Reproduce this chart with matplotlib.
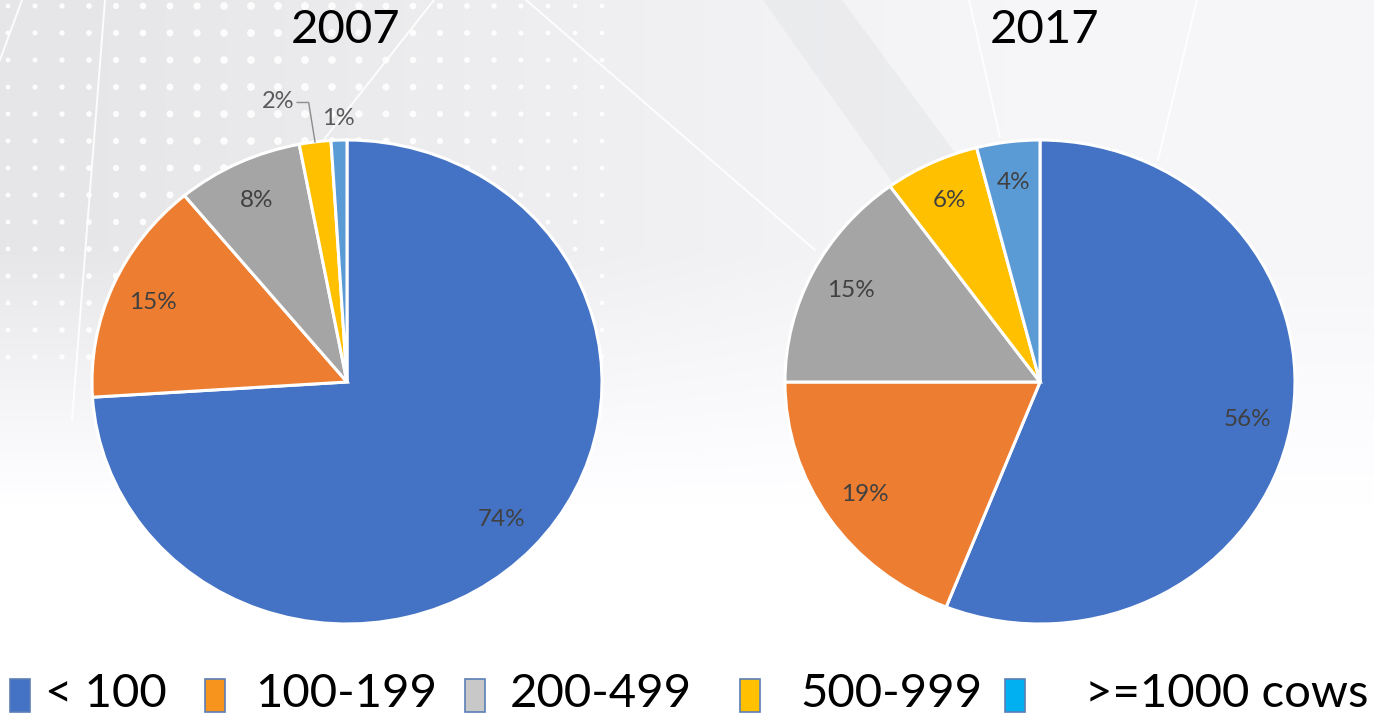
import matplotlib
matplotlib.use('Agg')
import matplotlib.pyplot as plt
from matplotlib.patches import Rectangle
import numpy as np

# herd size classes, share of farms (%)
categories = ['< 100', '100-199', '200-499', '500-999', '>=1000 cows']
years = ['2007', '2017']
share_2007 = [74, 15, 8, 2, 1]
share_2017 = [56, 19, 15, 6, 4]

slice_colors = ['#4472C4', '#ED7D31', '#A5A5A5', '#FFC000', '#5B9BD5']
legend_colors = ['#4472C4', '#F7941D', '#C8C8C8', '#FFC000', '#00B0F0']

plt.rcParams['font.family'] = ['Lato', 'DejaVu Sans']

W, H = 1374, 720
fig = plt.figure(figsize=(W / 100, H / 100), dpi=100)

# slide background: grey on top / left, fading to white at the bottom
bg = fig.add_axes([0, 0, 1, 1])
gx = np.linspace(0, 1, 400)
gy = np.linspace(0, 1, 300)
X, Y = np.meshgrid(gx, gy)
lum = 0.905 + 0.06 * np.clip(X * 1.5 - 0.1, 0, 1)
lum = lum + (1 - lum) * np.clip((Y - 0.35) / 0.35, 0, 1)
img = np.dstack([lum, lum, np.minimum(lum + 0.008, 1)])
bg.imshow(img, aspect='auto', extent=[0, W, H, 0])
# faint diagonal band top middle
bg.fill([763, 842, 990, 905], [0, 0, 200, 200], color='#e2e3e6', alpha=0.45, lw=0)
# white dot grid on the left
dx, dy = np.meshgrid(np.arange(8, 620, 27), np.arange(6, 380, 27))
dx, dy = dx.ravel(), dy.ravel()
sz = 10 + 22 * np.exp(-((dx - 280) / 180.0) ** 2)
bg.scatter(dx, dy, s=sz, color='white', alpha=0.9, lw=0)
# thin white decoration lines
for (x0, y0, x1, y1) in [(105, 0, 72, 420), (434, 0, 300, 170), (526, 0, 815, 250),
                         (969, 0, 1000, 137), (1197, 0, 1158, 160), (22, 0, 0, 60)]:
    bg.plot([x0, x1], [y0, y1], color='white', lw=1.4, alpha=0.9)
bg.set_xlim(0, W)
bg.set_ylim(H, 0)
bg.axis('off')


def pie_axes(cx, cy, rx, ry):
    pad = 1.25
    ax = fig.add_axes([(cx - rx * pad) / W, (H - cy - ry * pad) / H,
                       2 * rx * pad / W, 2 * ry * pad / H])
    return ax, pad


def draw_pie(cx, values, title, title_x, small_outside):
    ax, pad = pie_axes(cx, 382, 255, 242)
    wedges, _ = ax.pie(values, colors=slice_colors, startangle=90, counterclock=False,
                       radius=1, wedgeprops={'edgecolor': 'white', 'linewidth': 2.2})
    ax.set_aspect('auto')
    ax.set_xlim(-pad, pad)
    ax.set_ylim(-pad, pad)
    ax.axis('off')
    for i, w in enumerate(wedges):
        ang = np.deg2rad((w.theta1 + w.theta2) / 2)
        lbl = f'{values[i]}%'
        if small_outside and values[i] <= 1:
            ax.text(1.09 * np.cos(ang), 1.09 * np.sin(ang), lbl, ha='center', va='center',
                    fontsize=17, color='#595959')
        elif small_outside and values[i] <= 2:
            ex, ey = np.cos(ang), np.sin(ang)
            ax.plot([ex, ex - 0.025, ex - 0.07], [ey, 1.155, 1.155], color='#8c8c8c', lw=1)
            ax.text(ex - 0.08, 1.16, lbl, ha='right', va='center', fontsize=17, color='#595959')
        else:
            ax.text(0.83 * np.cos(ang), 0.83 * np.sin(ang), lbl, ha='center', va='center',
                    fontsize=17.5, color='#404040')
    fig.text(title_x / W, 1 - 30 / H, title, ha='center', va='center', fontsize=34, color='black')


draw_pie(347, share_2007, years[0], 346, True)
draw_pie(1040, share_2017, years[1], 1045, False)

# legend along the bottom
sq_left = [10, 205, 465, 740, 1005]
txt_left = [45, 255, 510, 800, 1085]
for i, c in enumerate(categories):
    fig.patches.append(Rectangle((sq_left[i] / W, 1 - 712 / H), 20 / W, 33 / H,
                                 transform=fig.transFigure, facecolor=legend_colors[i],
                                 edgecolor='#5b7fb5', linewidth=1.2))
    fig.text(txt_left[i] / W, 1 - 694 / H, c, ha='left', va='center', fontsize=34, color='black')

fig.savefig('out.png', dpi=100)
